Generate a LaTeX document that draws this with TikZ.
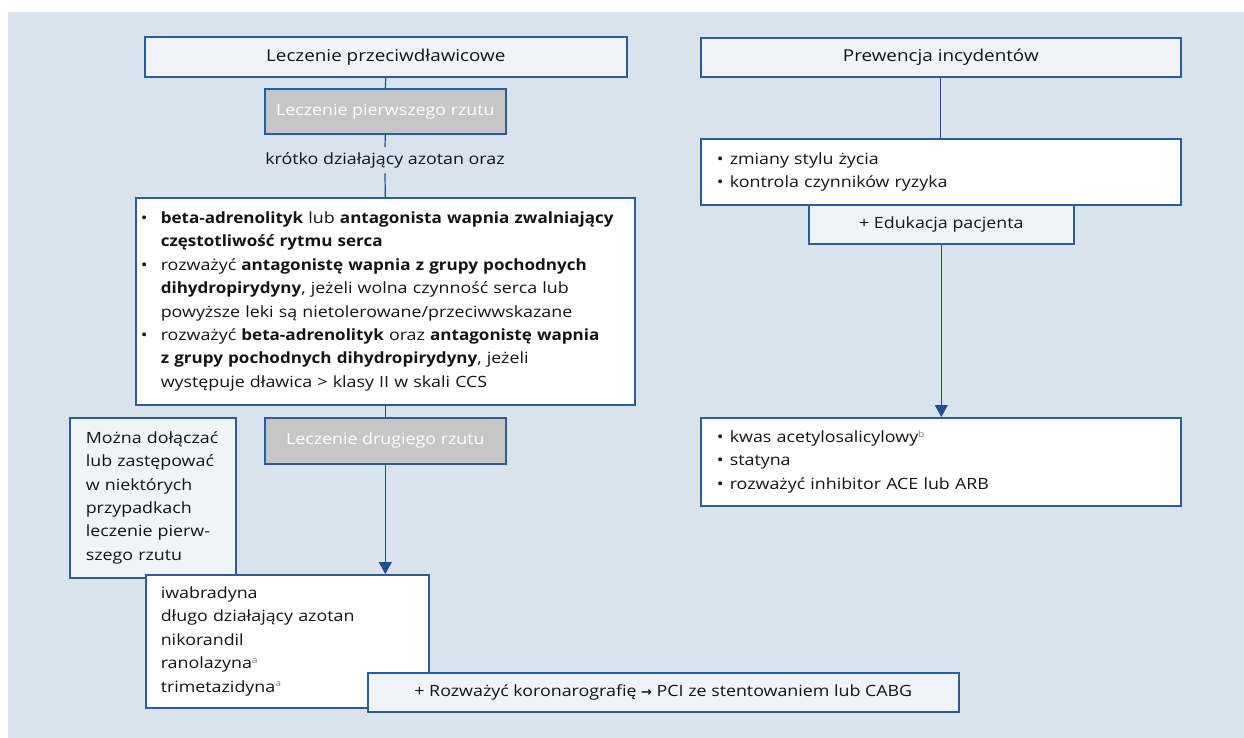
\documentclass[tikz,border=0pt]{standalone}
\usepackage{fontspec}
\setmainfont{Open Sans}[UprightFeatures={FakeStretch=1.15}, BoldFeatures={FakeStretch=1.1}]
\newfontfamily\symfont{DejaVu Sans}
\usetikzlibrary{arrows.meta}

\definecolor{bgblue}{HTML}{D9E3ED}
\definecolor{paleblue}{HTML}{F0F4F8}
\definecolor{framec}{HTML}{2A5D9C}
\definecolor{linec}{HTML}{1F4F8F}
\definecolor{greyfill}{HTML}{C6C6C6}
\definecolor{inkc}{HTML}{141414}

\newcommand{\bl}{\makebox[18pt][l]{\hspace*{-2pt}\textbullet}}
\newcommand{\ind}{\hspace*{18pt}}
\newcommand{\blr}{\makebox[13pt][l]{\textbullet}}
\newcommand{\fn}[1]{\textsuperscript{\color{gray}\fontsize{9}{9}\selectfont #1}}

\tikzset{
  txt/.style={font=\fontsize{15.5}{23.4}\selectfont, text=inkc},
  headtxt/.style={font=\fontsize{16.4}{23.4}\selectfont},
  panel/.style={draw=framec, line width=1.6pt, txt, inner sep=0pt, anchor=north west},
  palebox/.style={panel, fill=paleblue},
  whitebox/.style={panel, fill=white},
  greybox/.style={panel, fill=greyfill, text=white},
  link/.style={draw=linec, line width=1.2pt},
  arrowlink/.style={link, -{Triangle[width=13pt,length=12pt]}}
}

\begin{document}
\begin{tikzpicture}[x=1pt,y=-1pt]
  % canvas
  \useasboundingbox (0,0) rectangle (1244,738);
  \fill[bgblue] (8,12) rectangle (1244,738);

  % ---- left column: antianginal treatment ----
  \node[palebox, headtxt, minimum width=482pt, minimum height=40pt] (treat) at (144,36)
    {Leczenie przeciwdławicowe};
  \node[greybox, minimum width=241pt, minimum height=45pt] (first) at (264,88)
    {Leczenie pierwszego rzutu};
  \node[txt, inner sep=0pt, minimum height=26pt, anchor=north] (short) at (385,147)
    {krótko działający azotan oraz};

  \node[whitebox, minimum width=499pt, minimum height=207pt, align=left,
        text width=485pt, inner xsep=7pt] (firstlist) at (135,197)
    {\bl\textbf{beta-adrenolityk} lub \textbf{antagonista wapnia zwalniający}\\
     \ind\textbf{częstotliwość rytmu serca}\\
     \bl rozważyć \textbf{antagonistę wapnia z grupy pochodnych}\\
     \ind\textbf{dihydropirydyny}, jeżeli wolna czynność serca lub\\
     \ind powyższe leki są nietolerowane/przeciwwskazane\\
     \bl rozważyć \textbf{beta-adrenolityk} oraz \textbf{antagonistę wapnia}\\
     \ind\textbf{z grupy pochodnych dihydropirydyny}, jeżeli\\
     \ind występuje dławica > klasy II w skali CCS};

  \node[greybox, minimum width=241pt, minimum height=46pt] (second) at (264,417)
    {Leczenie drugiego rzutu};

  \node[palebox, minimum width=166pt, minimum height=160pt, align=left,
        text width=134pt, inner xsep=16pt] (note) at (69,417)
    {Można dołączać\\ lub zastępować\\ w niektórych\\ przypadkach\\ leczenie pierw-\\ szego rzutu};

  \node[whitebox, minimum width=283pt, minimum height=133pt, align=left,
        text width=253pt, inner xsep=15pt] (drugs) at (145,574)
    {iwabradyna\\ długo działający azotan\\ nikorandil\\ ranolazyna\fn{a}\\ trimetazidyna\fn{a}};

  \node[palebox, minimum width=591pt, minimum height=39pt] (revasc) at (367,672)
    {+ Rozważyć koronarografię {\symfont\bfseries\fontsize{13}{13}\selectfont →} PCI ze stentowaniem lub CABG};

  % ---- right column: prevention of events ----
  \node[palebox, headtxt, minimum width=480pt, minimum height=39pt] (prev) at (700,37)
    {Prewencja incydentów};
  \node[whitebox, minimum width=480pt, minimum height=66pt, align=left,
        text width=448pt, inner xsep=16pt] (life) at (700,138)
    {\blr zmiany stylu życia\\ \blr kontrola czynników ryzyka};
  \node[palebox, minimum width=265pt, minimum height=39pt] (edu) at (808,204)
    {+ Edukacja pacjenta};
  \node[whitebox, minimum width=480pt, minimum height=88pt, align=left,
        text width=448pt, inner xsep=16pt] (drugsr) at (700,417)
    {\blr kwas acetylosalicylowy\fn{b}\\ \blr statyna\\ \blr rozważyć inhibitor ACE lub ARB};

  % ---- connectors ----
  \draw[link] (treat.south) -- (first.north);
  \draw[link] (first.south) -- (short.north);
  \draw[link] (short.south) -- (firstlist.north);
  \draw[link] (firstlist.south) -- (second.north);
  \draw[arrowlink] (second.south) -- (second.south |- drugs.north);
  \draw[link] (prev.south) -- (prev.south |- life.north);
  \draw[arrowlink] (edu.south) -- (edu.south |- drugsr.north);
\end{tikzpicture}
\end{document}
